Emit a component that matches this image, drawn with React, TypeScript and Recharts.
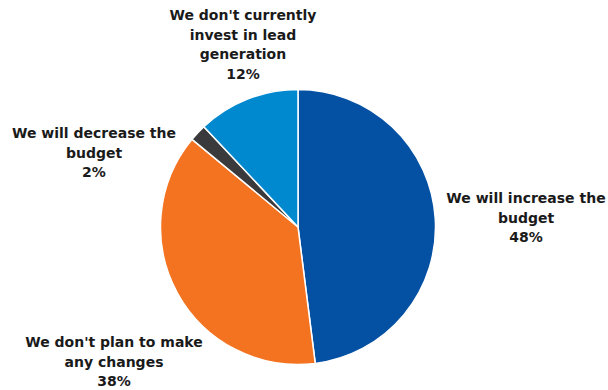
import { PieChart, Pie, Cell } from 'recharts';

const categories = [
  'We will increase the budget',
  "We don't plan to make any changes",
  'We will decrease the budget',
  "We don't currently invest in lead generation",
];
const shares = [48, 38, 2, 12];
const labelLines = [
  ['We will increase the', 'budget'],
  ["We don't plan to make", 'any changes'],
  ['We will decrease the', 'budget'],
  ["We don't currently", 'invest in lead', 'generation'],
];
const colors = ['#0450A3', '#F37321', '#3A3A3C', '#0089CF'];

// manual label placement, offsets from the pie centre (first baseline)
const labelOffsets = [
  { dx: 228, dy: -24 },
  { dx: -184, dy: 120 },
  { dx: -204, dy: -89 },
  { dx: -55, dy: -207 },
];

const data = categories.map((name, i) => ({ name, value: shares[i] }));

const renderLabel = (props: any) => {
  const { cx, cy, index, value } = props;
  const off = labelOffsets[index];
  const lines = [...labelLines[index], `${value}%`];
  return (
    <text
      x={cx + off.dx}
      y={cy + off.dy}
      textAnchor="middle"
      fill="#1a1a1a"
      fontFamily="'DejaVu Sans', sans-serif"
      fontWeight={700}
      fontSize={14}
    >
      {lines.map((l, i) => (
        <tspan key={i} x={cx + off.dx} dy={i === 0 ? 0 : 19.5}>
          {l}
        </tspan>
      ))}
    </text>
  );
};

export default function App() {
  return (
    <div style={{ position: 'absolute', left: 0, top: 0, background: '#fff' }}>
      <PieChart width={608} height={390} margin={{ top: 0, right: 0, bottom: 0, left: 0 }}>
        <Pie
          data={data}
          dataKey="value"
          nameKey="name"
          cx={298}
          cy={227}
          outerRadius={137.5}
          startAngle={90}
          endAngle={-270}
          stroke="#fff"
          strokeWidth={1.5}
          label={renderLabel}
          labelLine={false}
          isAnimationActive={false}
        >
          {data.map((d, i) => (
            <Cell key={d.name} fill={colors[i]} />
          ))}
        </Pie>
      </PieChart>
    </div>
  );
}
